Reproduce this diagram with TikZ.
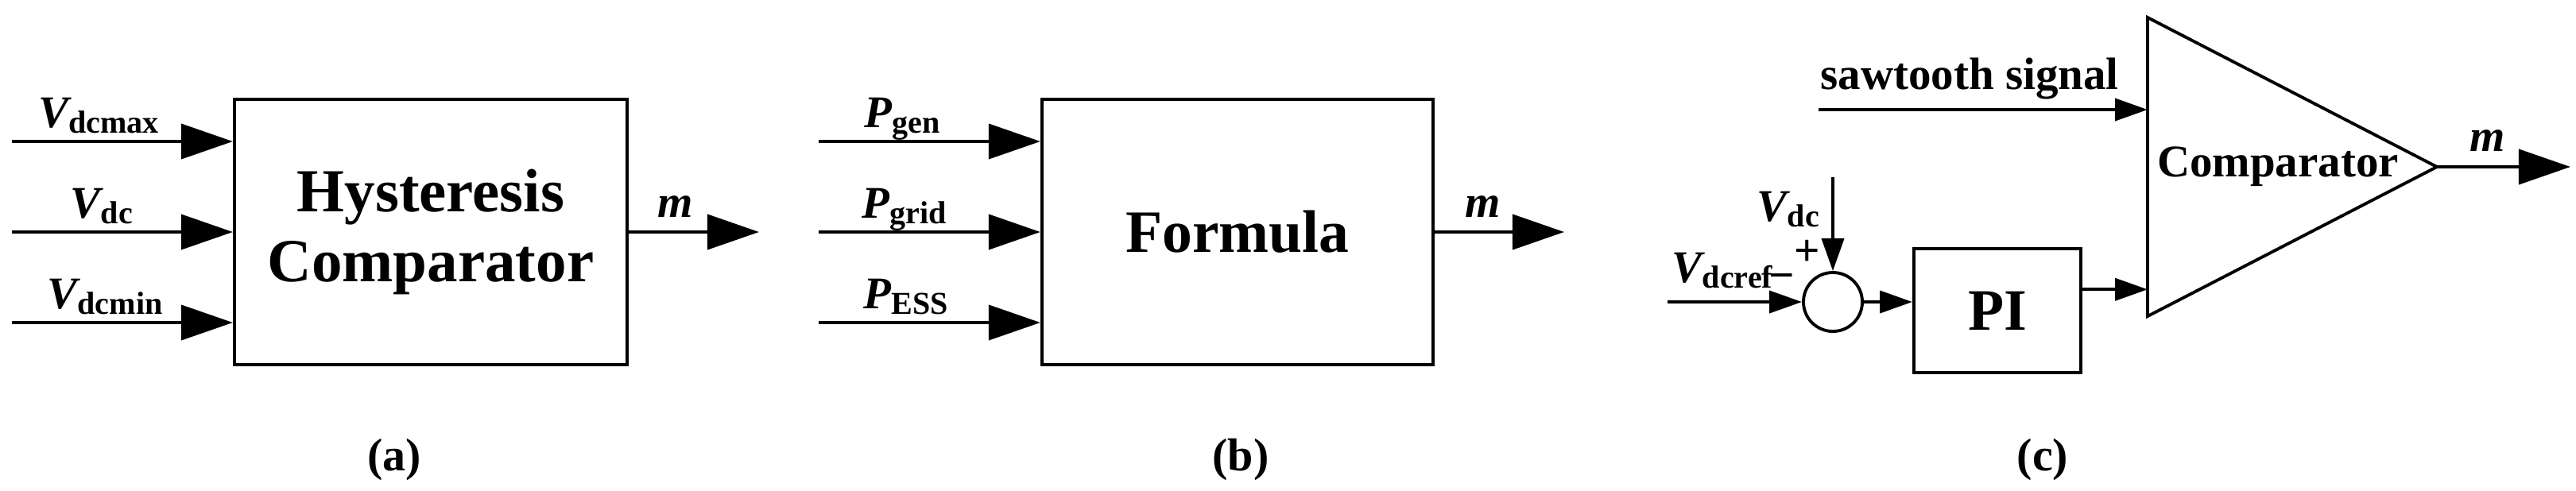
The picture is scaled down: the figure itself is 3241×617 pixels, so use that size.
\documentclass[tikz,border=0pt]{standalone}
\usepackage{fontspec}
\setmainfont{Liberation Serif}
\usetikzlibrary{arrows.meta,calc}
\newcommand{\sig}[2]{{\fontsize{16.2}{18}\selectfont\bfseries\itshape #1}\raisebox{-2pt}{\fontsize{11.4}{13}\selectfont\bfseries #2}}
\begin{document}
\begin{tikzpicture}[x=0.01cm,y=-0.01cm,
  every node/.style={font=\bfseries},
  lw/.style={line width=1.1pt},
  bigarr/.style={lw,-{Triangle[length=0.65cm,width=0.44cm]}},
  smallarr/.style={lw,-{Triangle[length=0.41cm,width=0.28cm]}},
  blk/.style={draw,lw,inner sep=0pt,align=center},
  lbl/.style={anchor=base,inner sep=0pt},
  subcap/.style={font=\fontsize{16.5}{18}\selectfont\bfseries},
  mlbl/.style={anchor=base,inner sep=0pt,font=\fontsize{16.2}{18}\selectfont\bfseries\itshape},
  ]
\useasboundingbox (0,0) rectangle (3241,617);

% ---------- (a) ----------
\node[blk,minimum width=4.94cm,minimum height=3.34cm,
      font=\fontsize{21.9}{25}\selectfont\bfseries] (A) at (542,292) {Hysteresis\\Comparator};
\coordinate (a1) at (15,178);
\coordinate (a2) at (15,292);
\coordinate (a3) at (15,406);
\draw[bigarr] (a1) -- (a1 -| A.west);
\draw[bigarr] (a2) -- (a2 -| A.west);
\draw[bigarr] (a3) -- (a3 -| A.west);
\node[lbl] (la1) at (124,160) {\sig{V}{dcmax}};
\node[lbl] (la2) at (128,274) {\sig{V}{dc}};
\node[lbl] (la3) at (132,388) {\sig{V}{dcmin}};
\coordinate (aout) at (955,292);
\draw[bigarr] (A.east) -- (aout);
\node[mlbl] (ma) at (850,273) {m};
\node[subcap] (capa) at (496,579) {(a)};

% ---------- (b) ----------
\node[blk,minimum width=4.92cm,minimum height=3.34cm,
      font=\fontsize{21.5}{25}\selectfont\bfseries] (B) at (1557,292) {Formula};
\coordinate (b1) at (1030,178);
\coordinate (b2) at (1030,292);
\coordinate (b3) at (1030,406);
\draw[bigarr] (b1) -- (b1 -| B.west);
\draw[bigarr] (b2) -- (b2 -| B.west);
\draw[bigarr] (b3) -- (b3 -| B.west);
\node[lbl] (lb1) at (1135,160) {\sig{P}{gen}};
\node[lbl] (lb2) at (1138,274) {\sig{P}{grid}};
\node[lbl] (lb3) at (1140,388) {\sig{P}{ESS}};
\coordinate (bout) at (1968,292);
\draw[bigarr] (B.east) -- (bout);
\node[mlbl] (mb) at (1866,273) {m};
\node[subcap] (capb) at (1561,579) {(b)};

% ---------- (c) ----------
\coordinate (ct) at (2702,22);
\coordinate (cb) at (2702,398);
\coordinate (cp) at (3066,210);
\draw[lw,line join=miter] (ct) -- (cp) -- (cb) -- cycle;
\node[inner sep=0pt,font=\fontsize{16.2}{18}\selectfont\bfseries] (comp) at (2866,210) {Comparator};
\coordinate (sw) at (2288,138);
\draw[smallarr] (sw) -- (sw -| ct);
\node[lbl,font=\fontsize{16.2}{18}\selectfont\bfseries] (swl) at (2478,112) {sawtooth signal};
\coordinate (cout) at (3234,210);
\draw[bigarr] (cp) -- (cout);
\node[mlbl] (mc) at (3130,190) {m};

\node[blk,minimum width=2.10cm,minimum height=1.56cm,
      font=\fontsize{21}{24}\selectfont\bfseries] (PI) at (2513,391) {PI};
\node[draw,lw,circle,inner sep=0pt,minimum size=0.74cm] (sum) at (2306,380) {};
\coordinate (vref) at (2098,380);
\coordinate (vdc) at (2306,223);
\draw[smallarr] (vref) -- (sum.west);
\draw[smallarr] (vdc) -- (sum.north);
\draw[smallarr] (sum.east) -- (sum.east -| PI.west);
\coordinate (pio) at ($(PI.north east)!0.333!(PI.south east)$);
\draw[smallarr] (pio) -- (pio -| ct);
\node[lbl] (lvdc) at (2250,278) {\sig{V}{dc}};
\node[lbl] (lvref) at (2167,355) {\sig{V}{dcref}};
\node[inner sep=0pt,font=\fontsize{16.2}{18}\selectfont\bfseries] (plus) at (2274,318) {+};
\node[inner sep=0pt,font=\fontsize{16.2}{18}\selectfont\bfseries] (minus) at (2242,355) {−};
\node[subcap] (capc) at (2570,579) {(c)};
\end{tikzpicture}
\end{document}
